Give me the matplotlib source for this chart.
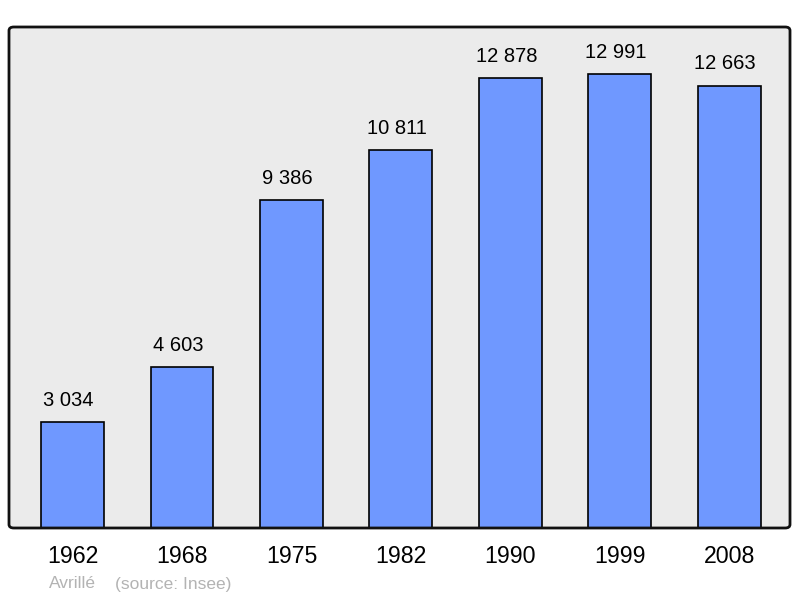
import matplotlib
matplotlib.use("Agg")
import matplotlib.pyplot as plt
from matplotlib.patches import FancyBboxPatch

plt.rcParams['font.family'] = ['Liberation Sans', 'DejaVu Sans']

years = ['1962', '1968', '1975', '1982', '1990', '1999', '2008']
population = [3034, 4603, 9386, 10811, 12878, 12991, 12663]
value_labels = ['3 034', '4 603', '9 386', '10 811', '12 878', '12 991', '12 663']

fig = plt.figure(figsize=(8, 5.98), dpi=100)
W, H = 800, 598
# axes box in pixels: x 9..790, y 27..528
ax = fig.add_axes([9 / W, 1 - 528 / H, 781 / W, 501 / H])
ax.set_facecolor('#ebebeb')

x = list(range(len(years)))
ax.bar(x, population, width=0.575, color='#6f98ff', edgecolor='black', linewidth=1.2, zorder=2)
for xi, v, lab in zip(x, population, value_labels):
    ax.annotate(lab, (xi, v), xytext=(-3, 9), textcoords='offset points',
                ha='center', va='bottom', fontsize=14.5, color='black')

ax.set_xlim(-0.58, 6.553)
ax.set_ylim(0, 14340)
ax.set_xticks([])
ax.set_yticks([])
for s in ax.spines.values():
    s.set_visible(False)

# rounded frame
frame = FancyBboxPatch((9 / W, 1 - 528 / H), 781 / W, 501 / H,
                       boxstyle='round,pad=0,rounding_size=0.006',
                       transform=fig.transFigure, facecolor='none',
                       edgecolor='#111111', linewidth=2, zorder=5)
fig.patches.append(frame)

for xi, yr in zip(x, years):
    ax.text(xi, -0.056, yr, transform=ax.get_xaxis_transform(),
            ha='center', va='center', fontsize=16.7, color='black')

fig.text(49 / W, 1 - 584 / H, 'Avrillé', ha='left', va='center', fontsize=12.5, color='#b3b3b3')
fig.text(115 / W, 1 - 584 / H, '(source: Insee)', ha='left', va='center', fontsize=12.5, color='#b3b3b3')

fig.savefig('out.png', dpi=100)
